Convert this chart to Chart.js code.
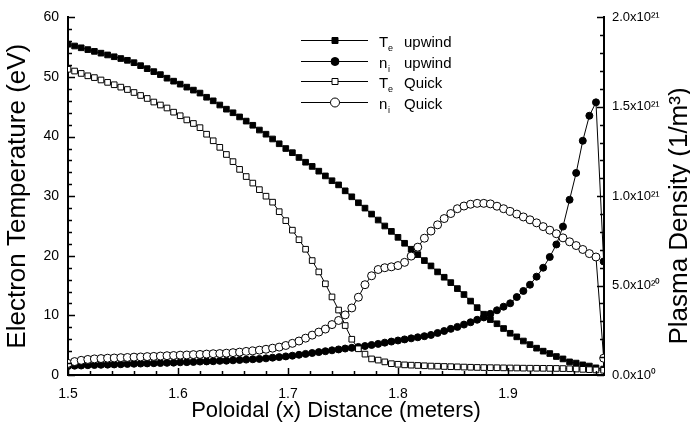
<!DOCTYPE html>
<html>
<head>
<meta charset="utf-8">
<script src="https://cdn.jsdelivr.net/npm/chart.js@4.4.1/dist/chart.umd.min.js"></script>
<style>
  html, body { margin: 0; padding: 0; background: #fff; }
</style>
</head>
<body>
<canvas id="myChart" width="690" height="427"></canvas>
<script>
// poloidal position (m)
const xPositions = [
  1.500,1.506,1.512,1.518,1.524,1.530,1.536,1.542,1.548,1.554,
  1.560,1.566,1.572,1.578,1.584,1.590,1.596,1.602,1.608,1.614,
  1.620,1.626,1.632,1.638,1.644,1.650,1.656,1.662,1.668,1.674,
  1.680,1.686,1.692,1.698,1.704,1.710,1.716,1.722,1.728,1.734,
  1.740,1.746,1.752,1.758,1.764,1.770,1.776,1.782,1.788,1.794,
  1.800,1.806,1.812,1.818,1.824,1.830,1.836,1.842,1.848,1.854,
  1.860,1.866,1.872,1.878,1.884,1.890,1.896,1.902,1.908,1.914,
  1.920,1.926,1.932,1.938,1.944,1.950,1.956,1.962,1.968,1.974,
  1.980,1.987
];

// electron temperature (eV)
const teUpwind = [
  55.5,55.2,54.9,54.6,54.3,54.0,53.7,53.4,53.1,52.8,
  52.4,51.9,51.4,50.9,50.4,49.8,49.3,48.8,48.3,47.8,
  47.3,46.6,46.0,45.3,44.6,44.0,43.3,42.6,41.9,41.1,
  40.4,39.6,38.8,38.0,37.3,36.5,35.7,35.0,34.2,33.4,
  32.6,31.9,30.9,29.9,28.9,28.0,27.0,26.0,25.0,24.1,
  23.1,22.1,21.1,20.2,19.2,18.3,17.3,16.4,15.5,14.5,
  13.5,12.4,11.3,10.2,9.3,8.6,7.8,7.0,6.4,5.7,
  5.1,4.5,4.0,3.6,3.1,2.7,2.2,2.0,1.7,1.5,
  1.2,1.0
];
const teQuick = [
  51.3,51.0,50.6,50.2,49.9,49.5,49.1,48.7,48.3,47.9,
  47.4,46.9,46.4,45.8,45.3,44.8,44.1,43.5,42.8,42.2,
  41.5,40.4,39.3,38.2,37.0,35.8,34.5,33.3,32.2,31.1,
  30.0,29.0,27.4,25.9,24.3,22.7,21.1,19.2,17.3,15.3,
  13.1,10.9,8.3,6.0,4.4,3.5,2.7,2.5,2.2,1.9,
  1.8,1.7,1.65,1.6,1.55,1.5,1.47,1.43,1.4,1.37,
  1.33,1.3,1.27,1.25,1.23,1.22,1.2,1.18,1.17,1.15,
  1.14,1.13,1.12,1.11,1.1,1.08,1.05,1.0,0.95,0.9,
  0.85,0.8
];

// ion density, units of 1e21 m^-3
const niUpwind = [
  0.050,0.052,0.053,0.055,0.056,0.057,0.058,0.059,0.060,0.062,
  0.063,0.064,0.065,0.066,0.067,0.068,0.069,0.071,0.072,0.073,
  0.075,0.076,0.077,0.079,0.080,0.082,0.084,0.086,0.088,0.090,
  0.093,0.097,0.100,0.104,0.108,0.113,0.118,0.123,0.128,0.133,
  0.138,0.143,0.148,0.152,0.157,0.162,0.168,0.174,0.181,0.187,
  0.193,0.199,0.205,0.211,0.217,0.224,0.235,0.246,0.258,0.269,
  0.282,0.295,0.309,0.322,0.342,0.362,0.382,0.401,0.436,0.470,
  0.505,0.550,0.600,0.660,0.730,0.830,0.980,1.130,1.310,1.450,
  1.525,0.635
];
const niQuick = [
  0.065,0.075,0.082,0.087,0.090,0.092,0.094,0.095,0.097,0.098,
  0.100,0.101,0.103,0.104,0.106,0.108,0.109,0.111,0.112,0.114,
  0.115,0.117,0.119,0.120,0.122,0.125,0.128,0.132,0.135,0.139,
  0.144,0.150,0.156,0.165,0.177,0.190,0.206,0.223,0.240,0.257,
  0.282,0.305,0.336,0.375,0.435,0.505,0.555,0.590,0.600,0.605,
  0.612,0.630,0.665,0.715,0.765,0.805,0.840,0.875,0.903,0.930,
  0.945,0.955,0.960,0.960,0.957,0.944,0.930,0.915,0.900,0.884,
  0.868,0.851,0.830,0.810,0.790,0.767,0.745,0.724,0.702,0.679,
  0.660,0.094
];

const xTickLabels = ['1.5', '1.6', '1.7', '1.8', '1.9'];
const tempTickLabels = ['0', '10', '20', '30', '40', '50', '60'];
const densTickLabels = ['0.0x10\u2070', '5.0x10\u00b2\u2070', '1.0x10\u00b2\u00b9', '1.5x10\u00b2\u00b9', '2.0x10\u00b2\u00b9'];

const FONT = "'Liberation Sans', Arial, Helvetica, sans-serif";
Chart.defaults.font.family = FONT;
Chart.defaults.color = '#000';

const toPoints = ys => ys.map((y, i) => ({ x: xPositions[i], y: y }));

// legend rows: [symbol, subscript, word, marker style, marker fill]
const legendRows = [
  ['T', 'e', 'upwind', 'rect', '#000'],
  ['n', 'i', 'upwind', 'circle', '#000'],
  ['T', 'e', 'Quick', 'rect', '#fff'],
  ['n', 'i', 'Quick', 'circle', '#fff']
];

const axisDecor = {
  id: 'axisDecor',
  afterDraw(chart) {
    const ctx = chart.ctx;
    const xs = chart.scales.x, yt = chart.scales.yTemp, yd = chart.scales.yDens;
    const a = chart.chartArea;
    ctx.save();
    ctx.strokeStyle = '#000';
    ctx.lineWidth = 1.5;
    ctx.beginPath();
    // x axis ticks, inward
    for (let k = 0; k <= 24; k++) {
      const px = Math.round(xs.getPixelForValue(1.5 + k * 0.02)) + 0.5;
      const len = k % 5 === 0 ? 7 : 4;
      ctx.moveTo(px, a.bottom);
      ctx.lineTo(px, a.bottom - len);
    }
    // left axis ticks
    for (let k = 0; k <= 30; k++) {
      const py = Math.round(yt.getPixelForValue(k * 2)) + 0.5;
      const len = k % 5 === 0 ? 7 : 4;
      ctx.moveTo(a.left, py);
      ctx.lineTo(a.left + len, py);
    }
    // right axis ticks
    for (let k = 0; k <= 20; k++) {
      const py = Math.round(yd.getPixelForValue(k * 0.1)) + 0.5;
      const len = k % 5 === 0 ? 7 : 4;
      ctx.moveTo(a.right, py);
      ctx.lineTo(a.right - len, py);
    }
    ctx.stroke();

    // right axis title, reading bottom to top
    ctx.fillStyle = '#000';
    ctx.save();
    ctx.translate(687, 216);
    ctx.rotate(-Math.PI / 2);
    ctx.font = '26px ' + FONT;
    ctx.textAlign = 'center';
    ctx.textBaseline = 'alphabetic';
    ctx.fillText('Plasma Density (1/m\u00b3)', 0, 0);
    ctx.restore();

    // legend
    ctx.lineWidth = 1;
    legendRows.forEach((row, i) => {
      const y = [40, 61, 81, 102][i] + 0.5;
      ctx.beginPath();
      ctx.moveTo(301, y);
      ctx.lineTo(368, y);
      ctx.stroke();
      ctx.beginPath();
      if (row[3] === 'rect') {
        ctx.rect(335 - 3, y - 3, 6, 6);
      } else {
        ctx.arc(335, y, row[4] === '#000' ? 4 : 4.5, 0, Math.PI * 2);
      }
      ctx.fillStyle = row[4];
      ctx.fill();
      ctx.stroke();
      ctx.fillStyle = '#000';
      ctx.textBaseline = 'alphabetic';
      ctx.textAlign = 'left';
      ctx.font = '15px ' + FONT;
      ctx.fillText(row[0], 379, y + 6);
      ctx.font = '9px ' + FONT;
      ctx.fillText(row[1], 388, y + 10);
      ctx.font = '15px ' + FONT;
      ctx.fillText(row[2], 404, y + 6);
    });
    ctx.restore();
  }
};

new Chart(document.getElementById('myChart'), {
  type: 'line',
  data: {
    datasets: [
      {
        label: 'ni Quick', data: toPoints(niQuick), yAxisID: 'yDens', order: 0,
        borderColor: '#000', borderWidth: 1, pointStyle: 'circle', pointRadius: 4,
        pointBackgroundColor: '#fff', pointBorderColor: '#000', pointBorderWidth: 1
      },
      {
        label: 'Te Quick', data: toPoints(teQuick), yAxisID: 'yTemp', order: 1,
        borderColor: '#000', borderWidth: 1, pointStyle: 'rect', pointRadius: 4,
        pointBackgroundColor: '#fff', pointBorderColor: '#000', pointBorderWidth: 1
      },
      {
        label: 'ni upwind', data: toPoints(niUpwind), yAxisID: 'yDens', order: 2,
        borderColor: '#000', borderWidth: 1, pointStyle: 'circle', pointRadius: 3.5,
        pointBackgroundColor: '#000', pointBorderColor: '#000', pointBorderWidth: 1
      },
      {
        label: 'Te upwind', data: toPoints(teUpwind), yAxisID: 'yTemp', order: 3,
        borderColor: '#000', borderWidth: 1, pointStyle: 'rect', pointRadius: 4,
        pointBackgroundColor: '#000', pointBorderColor: '#000', pointBorderWidth: 1
      }
    ]
  },
  options: {
    responsive: false,
    animation: false,
    devicePixelRatio: 1,
    layout: { padding: { top: 15, right: 0, left: 0, bottom: 0 } },
    plugins: { legend: { display: false }, tooltip: { enabled: false } },
    elements: { line: { tension: 0 } },
    scales: {
      x: {
        type: 'linear', position: 'bottom', min: 1.5, max: 1.9873,
        afterFit: s => { s.height = 52; },
        grid: { display: false, drawTicks: false },
        border: { display: true, width: 2, color: '#000' },
        ticks: {
          stepSize: 0.1, includeBounds: false, padding: 11, maxRotation: 0,
          font: { size: 14 },
          callback: v => xTickLabels[Math.round((v - 1.5) * 10)]
        },
        title: { display: true, text: 'Poloidal (x) Distance (meters)', font: { size: 22 }, padding: { top: 0, bottom: 3 } }
      },
      yTemp: {
        type: 'linear', position: 'left', min: 0, max: 60,
        afterFit: s => { s.width = 68; },
        grid: { display: false, drawTicks: false },
        border: { display: true, width: 2, color: '#000' },
        ticks: {
          stepSize: 10, padding: 9, font: { size: 14 },
          callback: v => tempTickLabels[Math.round(v / 10)]
        },
        title: { display: true, text: 'Electron Temperature (eV)', font: { size: 26 }, padding: { top: 2, bottom: 0 } }
      },
      yDens: {
        type: 'linear', position: 'right', min: 0, max: 2,
        afterFit: s => { s.width = 86; },
        grid: { display: false, drawTicks: false },
        border: { display: true, width: 2, color: '#000' },
        ticks: {
          stepSize: 0.5, padding: 8, font: { size: 13 },
          callback: v => densTickLabels[Math.round(v / 0.5)]
        }
      }
    }
  },
  plugins: [axisDecor]
});
</script>
</body>
</html>
